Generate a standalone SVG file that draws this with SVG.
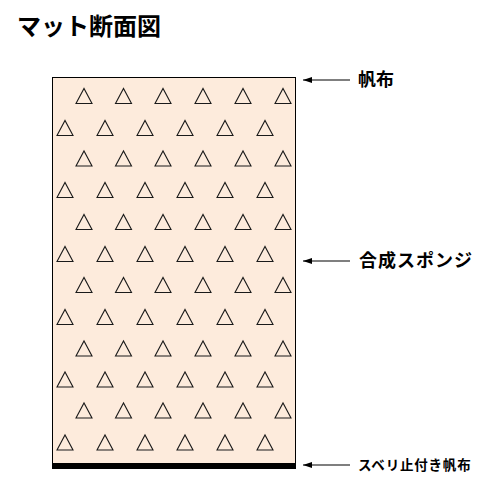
<svg xmlns="http://www.w3.org/2000/svg" xmlns:xlink="http://www.w3.org/1999/xlink" width="500" height="500" viewBox="0 0 500 500">
<style>
.t{font-family:"Noto Sans CJK JP","Noto Sans CJK SC",sans-serif;font-weight:bold;fill:#000}
.tri{fill:none;stroke:#1a1a1a;stroke-width:1.1}
.arr{stroke:#000;stroke-width:1.2;fill:none}
</style>
<defs>
<polygon id="tr" class="tri" points="0,0 8,-15 16,0"/>
<marker id="ah" markerWidth="10" markerHeight="8" refX="9" refY="4" orient="auto" markerUnits="userSpaceOnUse">
<polygon points="9,4 0,1 0,7" fill="#000"/>
</marker>
</defs>
<rect width="500" height="500" fill="#fff"/>
<text class="t" x="17" y="35" font-size="24">マット断面図</text>
<g id="mat">
<rect x="52.5" y="77.5" width="243" height="388" fill="#FDEBDC" stroke="#000" stroke-width="1"/>
<rect x="52" y="463" width="244" height="6" fill="#000"/>
<g id="triangles">
<g id="r1"><use href="#tr" x="76" y="103.5"/><use href="#tr" x="115.5" y="103.5"/><use href="#tr" x="155" y="103.5"/><use href="#tr" x="195" y="103.5"/><use href="#tr" x="235" y="103.5"/><use href="#tr" x="275" y="103.5"/></g>
<g id="r2"><use href="#tr" x="57" y="135.5"/><use href="#tr" x="97" y="135.5"/><use href="#tr" x="137" y="135.5"/><use href="#tr" x="177" y="135.5"/><use href="#tr" x="217" y="135.5"/><use href="#tr" x="257" y="135.5"/></g>
<g id="r3"><use href="#tr" x="76" y="166"/><use href="#tr" x="115.5" y="166"/><use href="#tr" x="155" y="166"/><use href="#tr" x="195" y="166"/><use href="#tr" x="235" y="166"/><use href="#tr" x="275" y="166"/></g>
<g id="r4"><use href="#tr" x="57" y="197.5"/><use href="#tr" x="97" y="197.5"/><use href="#tr" x="137" y="197.5"/><use href="#tr" x="177" y="197.5"/><use href="#tr" x="217" y="197.5"/><use href="#tr" x="257" y="197.5"/></g>
<g id="r5"><use href="#tr" x="76" y="229.5"/><use href="#tr" x="115.5" y="229.5"/><use href="#tr" x="155" y="229.5"/><use href="#tr" x="195" y="229.5"/><use href="#tr" x="235" y="229.5"/><use href="#tr" x="275" y="229.5"/></g>
<g id="r6"><use href="#tr" x="57" y="261.5"/><use href="#tr" x="97" y="261.5"/><use href="#tr" x="137" y="261.5"/><use href="#tr" x="177" y="261.5"/><use href="#tr" x="217" y="261.5"/><use href="#tr" x="257" y="261.5"/></g>
<g id="r7"><use href="#tr" x="76" y="292.5"/><use href="#tr" x="115.5" y="292.5"/><use href="#tr" x="155" y="292.5"/><use href="#tr" x="195" y="292.5"/><use href="#tr" x="235" y="292.5"/><use href="#tr" x="275" y="292.5"/></g>
<g id="r8"><use href="#tr" x="57" y="324.5"/><use href="#tr" x="97" y="324.5"/><use href="#tr" x="137" y="324.5"/><use href="#tr" x="177" y="324.5"/><use href="#tr" x="217" y="324.5"/><use href="#tr" x="257" y="324.5"/></g>
<g id="r9"><use href="#tr" x="76" y="356"/><use href="#tr" x="115.5" y="356"/><use href="#tr" x="155" y="356"/><use href="#tr" x="195" y="356"/><use href="#tr" x="235" y="356"/><use href="#tr" x="275" y="356"/></g>
<g id="r10"><use href="#tr" x="57" y="387"/><use href="#tr" x="97" y="387"/><use href="#tr" x="137" y="387"/><use href="#tr" x="177" y="387"/><use href="#tr" x="217" y="387"/><use href="#tr" x="257" y="387"/></g>
<g id="r11"><use href="#tr" x="76" y="418"/><use href="#tr" x="115.5" y="418"/><use href="#tr" x="155" y="418"/><use href="#tr" x="195" y="418"/><use href="#tr" x="235" y="418"/><use href="#tr" x="275" y="418"/></g>
<g id="r12"><use href="#tr" x="57" y="450"/><use href="#tr" x="97" y="450"/><use href="#tr" x="137" y="450"/><use href="#tr" x="177" y="450"/><use href="#tr" x="217" y="450"/><use href="#tr" x="257" y="450"/></g>
</g>
</g>
<g id="connectors">
<line class="arr" x1="350" y1="80" x2="303" y2="80" marker-end="url(#ah)"/>
<line class="arr" x1="350" y1="261" x2="303" y2="261" marker-end="url(#ah)"/>
<line class="arr" x1="350" y1="465" x2="303" y2="465" marker-end="url(#ah)"/>
</g>
<g id="label-canvas"><text class="t" x="358" y="86" font-size="18">帆布</text></g>
<g id="label-sponge"><text class="t" x="359" y="267" font-size="18" letter-spacing="1">合成スポンジ</text></g>
<g id="label-bottom"><text class="t" x="358" y="470" font-size="13.5" letter-spacing="0.8">スベリ止付き帆布</text></g>
</svg>
